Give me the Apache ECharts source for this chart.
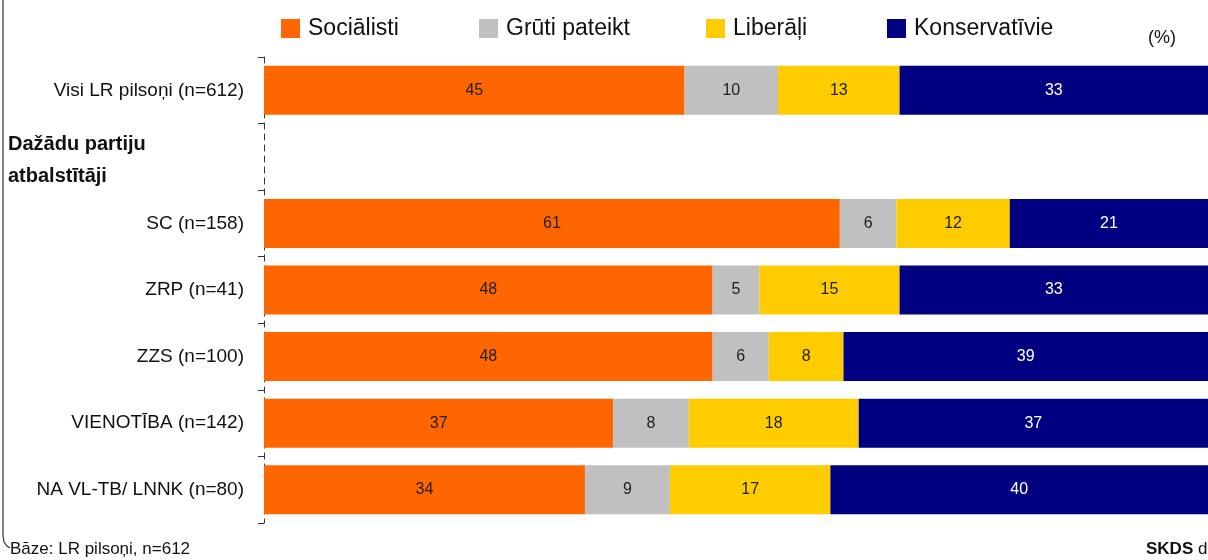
<!DOCTYPE html>
<html>
<head>
<meta charset="utf-8">
<script src="https://cdn.jsdelivr.net/npm/echarts@6/dist/echarts.min.js"></script>
<style>
  html, body { margin: 0; padding: 0; background: #fff; }
</style>
</head>
<body>
<div id="main" style="width:1208px;height:560px;"></div>
<script>
  // rindas (tukšā rinda ir virsraksta vieta)
  var categories = ['Visi LR pilsoņi (n=612)', '', 'SC (n=158)', 'ZRP (n=41)', 'ZZS (n=100)', 'VIENOTĪBA (n=142)', 'NA VL-TB/ LNNK (n=80)'];
  var seriesNames = ['Sociālisti', 'Grūti pateikt', 'Liberāļi', 'Konservatīvie'];
  var socialisti    = [45, null, 61, 48, 48, 37, 34];
  var grutiPateikt  = [10, null, 6, 5, 6, 8, 9];
  var liberali      = [13, null, 12, 15, 8, 18, 17];
  var konservativie = [33, null, 21, 33, 39, 37, 40];
  var colors = ['#FF6600', '#C0C0C0', '#FFCC00', '#000080'];

  var raw = [socialisti, grutiPateikt, liberali, konservativie];
  // rindas summa (noapaļošanas dēļ dažkārt 101), joslas normē uz 100
  var sums = categories.map(function (c, i) {
    var s = 0;
    raw.forEach(function (arr) { s += arr[i] || 0; });
    return s;
  });

  var font = 'Arial, "Liberation Sans", sans-serif';

  var series = raw.map(function (arr, k) {
    return {
      name: seriesNames[k],
      type: 'bar',
      stack: 'total',
      barWidth: 49,
      itemStyle: { color: colors[k] },
      label: {
        show: true,
        position: 'inside',
        color: k === 3 ? '#fff' : '#222',
        fontFamily: font,
        fontSize: 16,
        formatter: function (p) { return p.data.raw; }
      },
      data: arr.map(function (v, i) {
        return v == null ? null : { value: v / sums[i] * 100, raw: v };
      })
    };
  });

  // leģendas elementi ar oriģināla atstarpēm
  var legendLeft = [276, 474, 701, 882];
  var legends = seriesNames.map(function (name, k) {
    return {
      top: 12,
      left: legendLeft[k],
      itemWidth: 19,
      itemHeight: 19,
      icon: 'rect',
      textStyle: { fontFamily: font, fontSize: 23, color: '#111', padding: [0, 0, 0, 3] },
      data: [name]
    };
  });

  var myChart = echarts.init(document.getElementById('main'));
  var option = {
    animation: false,
    legend: legends,
    grid: { left: 264, right: 0, top: 57, bottom: 37 },
    xAxis: {
      type: 'value',
      min: 0,
      max: 100,
      show: false
    },
    yAxis: {
      type: 'category',
      inverse: true,
      data: categories,
      axisLine: { show: true, lineStyle: { color: '#333', type: [6, 5], width: 1 } },
      axisTick: { show: true, length: 6, lineStyle: { color: '#333' } },
      axisLabel: { fontFamily: font, fontSize: 19, color: '#111', margin: 20 }
    },
    graphic: [
      { type: 'text', left: 8, top: 128, style: { text: 'Dažādu partiju\natbalstītāji', font: 'bold 20px ' + font, fill: '#111', lineHeight: 32 } },
      { type: 'text', left: 1148, top: 29, style: { text: '(%)', font: '18px ' + font, fill: '#111' } },
      { type: 'text', left: 10, top: 541, style: { text: 'Bāze: LR pilsoņi, n=612', font: '17px ' + font, fill: '#111' } },
      { type: 'text', left: 1146, top: 541, style: { text: '{b|SKDS} d', font: '17px ' + font, fill: '#111', rich: { b: { fontWeight: 'bold', fontSize: 17, fontFamily: font } } } },
      { type: 'polyline', shape: { points: [[3, 0], [3, 536], [4, 542], [7, 546], [10, 548]] }, style: { stroke: '#333', fill: null, lineWidth: 1.2 } }
    ],
    series: series
  };
  myChart.setOption(option);
</script>
</body>
</html>
